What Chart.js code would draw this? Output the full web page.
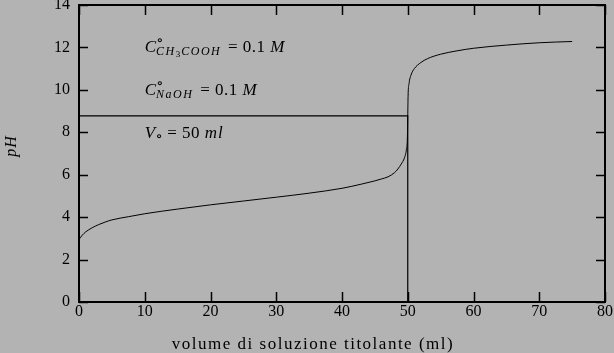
<!DOCTYPE html>
<html>
<head>
<meta charset="utf-8">
<script src="https://cdn.jsdelivr.net/npm/chart.js@4.4.1/dist/chart.umd.min.js"></script>
<style>
  html, body { margin: 0; padding: 0; background: #b3b3b3; }
  canvas { display: block; }
</style>
</head>
<body>
<canvas id="chart" width="614" height="353"></canvas>
<script>
// volume di titolante (ml) e pH
const volume = [0, 0.5, 1, 2, 3, 4, 5, 7.5, 10, 15, 20, 25, 30, 35, 40, 43, 45, 46, 47, 48, 48.5, 49, 49.5, 49.8, 49.95, 50, 50.05, 50.2, 50.5, 51, 52, 53, 55, 57.5, 60, 65, 70, 75];
const pH = [2.95, 3.15, 3.3, 3.5, 3.65, 3.77, 3.87, 4.02, 4.16, 4.38, 4.58, 4.76, 4.94, 5.13, 5.36, 5.56, 5.71, 5.8, 5.9, 6.1, 6.27, 6.5, 6.8, 7.2, 7.8, 8.75, 9.7, 10.3, 10.7, 11.0, 11.29, 11.47, 11.68, 11.84, 11.96, 12.11, 12.22, 12.28];

// linea del punto equivalente
const equivX = [0, 50, 50];
const equivY = [8.77, 8.77, 0];

const xTicks = [0, 10, 20, 30, 40, 50, 60, 70, 80];
const yTicks = [0, 2, 4, 6, 8, 10, 12, 14];

const xTitle = 'volume di soluzione titolante (ml)';
const yTitle = 'pH';

const SERIF = "'Liberation Serif', 'DejaVu Serif', serif";
const BG = '#b3b3b3';

// sfondo grigio
const bgPlugin = {
    id: 'bg',
    beforeDraw(chart) {
        const ctx = chart.ctx;
        ctx.save();
        ctx.fillStyle = BG;
        ctx.fillRect(0, 0, chart.width, chart.height);
        ctx.restore();
    }
};

// cornice e tacche verso l'interno su tutti i lati
const framePlugin = {
    id: 'frame',
    afterDatasetsDraw(chart) {
        const ctx = chart.ctx;
        const a = chart.chartArea;
        const xs = chart.scales.x, ys = chart.scales.y;
        ctx.save();
        ctx.strokeStyle = '#000';
        ctx.lineWidth = 1.5;
        xs.ticks.forEach(t => {
            const px = Math.round(xs.getPixelForValue(t.value)) + 0.5;
            ctx.beginPath();
            ctx.moveTo(px, a.bottom); ctx.lineTo(px, a.bottom - 10);
            ctx.moveTo(px, a.top); ctx.lineTo(px, a.top + 10);
            ctx.stroke();
        });
        ys.ticks.forEach(t => {
            const py = Math.round(ys.getPixelForValue(t.value)) + 0.5;
            ctx.beginPath();
            ctx.moveTo(a.left, py); ctx.lineTo(a.left + 9, py);
            ctx.moveTo(a.right, py); ctx.lineTo(a.right - 9, py);
            ctx.stroke();
        });
        ctx.lineWidth = 2;
        ctx.strokeRect(a.left, a.top, a.right - a.left, a.bottom - a.top);
        ctx.restore();
    }
};

// scritte con pedici, stile LaTeX
function drawMath(ctx, x, y, parts) {
    let cx = x;
    parts.forEach(p => {
        if (p.stack) {
            // apice e pedice sullo stesso punto
            let w = 0;
            p.stack.forEach(s => {
                ctx.font = s.font;
                ctx.letterSpacing = s.ls || '0px';
                ctx.fillText(s.t, cx, y + s.dy);
                w = Math.max(w, ctx.measureText(s.t).width);
            });
            cx += w;
        } else {
            ctx.font = p.font;
            ctx.letterSpacing = p.ls || '0px';
            ctx.fillText(p.t, cx + (p.dx || 0), y + (p.dy || 0));
            cx += ctx.measureText(p.t).width + (p.dx || 0);
        }
    });
    ctx.letterSpacing = '0px';
}

const labelPlugin = {
    id: 'labels',
    afterDatasetsDraw(chart) {
        const ctx = chart.ctx;
        const xs = chart.scales.x, ys = chart.scales.y;
        const it = 'italic 17px ' + SERIF;
        const rm = '17px ' + SERIF;
        const sit = 'italic 12px ' + SERIF;
        const ring = '15px ' + SERIF;
        const x0 = xs.getPixelForValue(10);
        ctx.save();
        ctx.fillStyle = '#000';
        ctx.textBaseline = 'alphabetic';
        ctx.textAlign = 'left';
        drawMath(ctx, x0, ys.getPixelForValue(11.8), [
            {t: 'C', font: it},
            {stack: [
                {t: '\u2218', font: ring, dy: -7},
                {t: 'CH', font: sit, dy: 3, ls: '1.5px'}
            ]},
            {t: '3', font: '9px ' + SERIF, dy: 5, ls: '1px'},
            {t: 'COOH', font: sit, dy: 3, ls: '1.5px'},
            {t: ' = 0.1 ', font: rm, ls: '0.5px', dx: 2},
            {t: 'M', font: it}
        ]);
        drawMath(ctx, x0, ys.getPixelForValue(9.75), [
            {t: 'C', font: it},
            {stack: [
                {t: '\u2218', font: ring, dy: -7},
                {t: 'NaOH', font: sit, dy: 3, ls: '1.5px'}
            ]},
            {t: ' = 0.1 ', font: rm, ls: '0.5px', dx: 2},
            {t: 'M', font: it}
        ]);
        drawMath(ctx, x0, ys.getPixelForValue(7.73), [
            {t: 'V', font: it},
            {t: '\u2218', font: ring, dy: 3},
            {t: ' = 50 ', font: rm, ls: '0.5px'},
            {t: 'ml', font: it, ls: '1px'}
        ]);

        // titoli degli assi
        ctx.font = '17px ' + SERIF;
        ctx.letterSpacing = '1.5px';
        const w = ctx.measureText(xTitle).width;
        ctx.fillText(xTitle, 313 - w / 2, 349);
        ctx.font = 'italic 16px ' + SERIF;
        ctx.letterSpacing = '1px';
        ctx.translate(16, 146);
        ctx.rotate(-Math.PI / 2);
        ctx.textAlign = 'center';
        ctx.fillText(yTitle, 0, 0);
        ctx.restore();
    }
};

const ctx = document.getElementById('chart').getContext('2d');
new Chart(ctx, {
    type: 'line',
    data: {
        datasets: [{
            data: volume.map((v, i) => ({x: v, y: pH[i]})),
            borderColor: '#000',
            borderWidth: 1,
            pointRadius: 0,
            cubicInterpolationMode: 'monotone',
            fill: false
        }, {
            data: equivX.map((v, i) => ({x: v, y: equivY[i]})),
            borderColor: '#000',
            borderWidth: 1.2,
            pointRadius: 0,
            tension: 0,
            fill: false
        }]
    },
    options: {
        responsive: false,
        devicePixelRatio: 1,
        animation: false,
        layout: { autoPadding: false, padding: { top: 5, right: 9, left: 0, bottom: 0 } },
        plugins: {
            legend: { display: false },
            tooltip: { enabled: false }
        },
        scales: {
            x: {
                type: 'linear',
                min: 0, max: 80,
                afterBuildTicks: s => { s.ticks = xTicks.map(v => ({value: v})); },
                afterFit: s => { s.height = 51; s.paddingLeft = 0; s.paddingRight = 0; },
                grid: { display: false, drawTicks: false },
                border: { display: false },
                ticks: {
                    padding: 0,
                    color: '#000',
                    font: { family: SERIF, size: 16 },
                    maxRotation: 0
                }
            },
            y: {
                type: 'linear',
                min: 0, max: 14,
                afterBuildTicks: s => { s.ticks = yTicks.map(v => ({value: v})); },
                afterFit: s => { s.width = 79; s.paddingTop = 0; s.paddingBottom = 0; },
                grid: { display: false, drawTicks: false },
                border: { display: false },
                ticks: {
                    padding: 9,
                    color: '#000',
                    font: { family: SERIF, size: 16 }
                }
            }
        }
    },
    plugins: [bgPlugin, framePlugin, labelPlugin]
});
</script>
</body>
</html>
